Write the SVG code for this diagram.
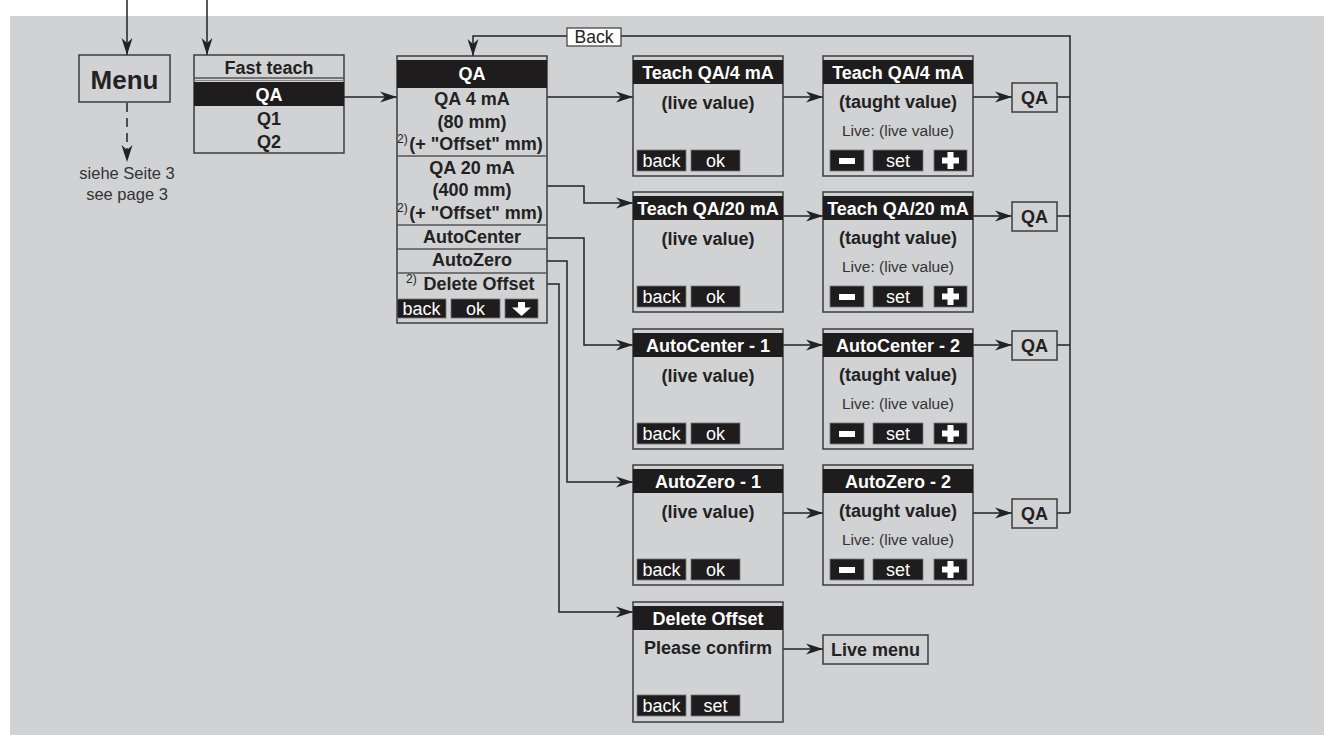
<svg xmlns="http://www.w3.org/2000/svg" width="1324" height="735" viewBox="0 0 1324 735">
<defs>
<style>
text{font-family:"Liberation Sans",Arial,sans-serif;fill:#222}
.b{font-weight:bold;font-size:18px}
.w{fill:#fff}
.c{text-anchor:middle}
.reg{font-size:18px}
.sm{font-size:15.5px;fill:#333}
.box{fill:none;stroke:#3c3c3c;stroke-width:1.5}
.sep{stroke:#555;stroke-width:1.5}
.bar{fill:#1e1c1c}
.btn{fill:#1e1c1c;stroke:#777;stroke-width:0.8}
.ln{fill:none;stroke:#222;stroke-width:1.5}
.sup{font-size:12px;font-weight:normal}
</style>
<marker id="ah" markerWidth="18" markerHeight="12" refX="17" refY="6" orient="auto" markerUnits="userSpaceOnUse">
<path d="M0,0.5 L17,6 L0,11.5 L5,6 z" fill="#222"/>
</marker>
<g id="scr1">
<rect class="box" x="0" y="0" width="150" height="120"/>
<rect class="bar" x="0" y="4" width="150" height="24"/>
<text class="b c" x="75" y="53">(live value)</text>
<rect class="btn" x="4" y="94" width="49" height="21"/>
<rect class="btn" x="58" y="94" width="49" height="21"/>
<text class="reg w c" x="28.5" y="111">back</text>
</g>
<g id="scr2">
<rect class="box" x="0" y="0" width="150" height="120"/>
<rect class="bar" x="0" y="4" width="150" height="24"/>
<text class="b c" x="75" y="52">(taught value)</text>
<text class="sm c" x="75" y="80">Live: (live value)</text>
<rect class="btn" x="7" y="94" width="34" height="21"/>
<rect x="16" y="102" width="16" height="6" fill="#fff"/>
<rect class="btn" x="50" y="94" width="50" height="21"/>
<text class="reg w c" x="75" y="111">set</text>
<rect class="btn" x="111" y="94" width="33" height="21"/>
<rect x="119" y="101.5" width="17" height="6" fill="#fff"/>
<rect x="124.5" y="96" width="6" height="17" fill="#fff"/>
</g>
</defs>

<rect x="0" y="0" width="1324" height="735" fill="#fff"/>
<rect x="10" y="16" width="1314" height="719" fill="#d1d2d4"/>

<g id="connectors">
<path class="ln" d="M127,0 V55" marker-end="url(#ah)"/>
<path class="ln" d="M207,0 V55" marker-end="url(#ah)"/>
<path class="ln" d="M127,103 V162" stroke-dasharray="9,6" marker-end="url(#ah)"/>
<path class="ln" d="M344,97 H397" marker-end="url(#ah)"/>
<path class="ln" d="M1057,97 H1070 M1057,216 H1070 M1057,345 H1070 M1057,513 H1070"/>
<path class="ln" d="M1070,513 V36 H473 V56" marker-end="url(#ah)"/>
<path class="ln" d="M547,97 H633" marker-end="url(#ah)"/>
<path class="ln" d="M547,186 H584 V203 H633" marker-end="url(#ah)"/>
<path class="ln" d="M547,238 H584 V345 H633" marker-end="url(#ah)"/>
<path class="ln" d="M547,261 H567 V482 H633" marker-end="url(#ah)"/>
<path class="ln" d="M547,284 H559 V612 H633" marker-end="url(#ah)"/>
<path class="ln" d="M783,97 H823" marker-end="url(#ah)"/>
<path class="ln" d="M783,216 H823" marker-end="url(#ah)"/>
<path class="ln" d="M783,345 H823" marker-end="url(#ah)"/>
<path class="ln" d="M783,513 H823" marker-end="url(#ah)"/>
<path class="ln" d="M973,97 H1012" marker-end="url(#ah)"/>
<path class="ln" d="M973,216 H1012" marker-end="url(#ah)"/>
<path class="ln" d="M973,345 H1012" marker-end="url(#ah)"/>
<path class="ln" d="M973,513 H1012" marker-end="url(#ah)"/>
<path class="ln" d="M783,649 H823" marker-end="url(#ah)"/>
<g id="back-label">
<rect x="567" y="28" width="54" height="18" fill="#fff" stroke="#3c3c3c" stroke-width="1.2"/>
<text class="reg c" x="594" y="43" style="font-size:17.5px">Back</text>
</g>
</g>

<g id="menu">
<rect class="box" x="79" y="55" width="91" height="47"/>
<text class="b c" x="124.5" y="89" style="font-size:26px">Menu</text>
</g>
<g id="see-page">
<text class="c" x="127" y="179" style="font-size:16.5px;fill:#333">siehe Seite 3</text>
<text class="c" x="127" y="200" style="font-size:16.5px;fill:#333">see page 3</text>
</g>

<g id="fast-teach">
<rect class="box" x="194" y="55" width="150" height="98"/>
<text class="b c" x="269" y="74">Fast teach</text>
<line class="sep" x1="194" y1="78" x2="344" y2="78"/>
<line x1="194" y1="80.5" x2="344" y2="80.5" stroke="#888" stroke-width="1"/>
<rect class="bar" x="194" y="82" width="150" height="24"/>
<text class="b w c" x="269" y="101">QA</text>
<text class="b c" x="269" y="125">Q1</text>
<text class="b c" x="269" y="148">Q2</text>
</g>

<g id="qa-menu">
<rect class="box" x="397" y="56" width="150" height="267"/>
<rect class="bar" x="397" y="60" width="150" height="28"/>
<text class="b w c" x="472" y="80">QA</text>
<text class="b c" x="472" y="105">QA 4 mA</text>
<text class="b c" x="472" y="128">(80 mm)</text>
<text class="sup" x="397" y="143">2)</text>
<text class="b c" x="476" y="150">(+ "Offset" mm)</text>
<line class="sep" x1="397" y1="156" x2="547" y2="156"/>
<text class="b c" x="472" y="174">QA 20 mA</text>
<text class="b c" x="472" y="196">(400 mm)</text>
<text class="sup" x="397" y="212">2)</text>
<text class="b c" x="476" y="219">(+ "Offset" mm)</text>
<line class="sep" x1="397" y1="225" x2="547" y2="225"/>
<text class="b c" x="472" y="243">AutoCenter</text>
<line class="sep" x1="397" y1="249" x2="547" y2="249"/>
<text class="b c" x="472" y="266">AutoZero</text>
<line class="sep" x1="397" y1="273" x2="547" y2="273"/>
<text class="sup" x="406" y="283">2)</text>
<text class="b c" x="479" y="290">Delete Offset</text>
<rect class="btn" x="397" y="299" width="49" height="19"/>
<text class="reg w c" x="421.5" y="315">back</text>
<rect class="btn" x="451" y="299" width="49" height="19"/>
<text class="reg w c" x="475.5" y="315">ok</text>
<rect class="btn" x="505" y="299" width="33" height="19"/>
<rect x="518" y="302" width="7" height="6" fill="#fff"/>
<polygon points="512,307.5 531,307.5 521.5,316" fill="#fff"/>
</g>

<g id="teach-4ma-1" transform="translate(633,56)">
<use href="#scr1"/>
<text class="b w c" x="75" y="22.5">Teach QA/4 mA</text>
<text class="reg w c" x="82.5" y="111">ok</text>
</g>
<g id="teach-4ma-2" transform="translate(823,56)">
<use href="#scr2"/>
<text class="b w c" x="75" y="22.5">Teach QA/4 mA</text>
</g>
<g id="teach-20ma-1" transform="translate(633,192)">
<use href="#scr1"/>
<text class="b w c" x="75" y="22.5">Teach QA/20 mA</text>
<text class="reg w c" x="82.5" y="111">ok</text>
</g>
<g id="teach-20ma-2" transform="translate(823,192)">
<use href="#scr2"/>
<text class="b w c" x="75" y="22.5">Teach QA/20 mA</text>
</g>
<g id="autocenter-1" transform="translate(633,329)">
<use href="#scr1"/>
<text class="b w c" x="75" y="22.5">AutoCenter - 1</text>
<text class="reg w c" x="82.5" y="111">ok</text>
</g>
<g id="autocenter-2" transform="translate(823,329)">
<use href="#scr2"/>
<text class="b w c" x="75" y="22.5">AutoCenter - 2</text>
</g>
<g id="autozero-1" transform="translate(633,465)">
<use href="#scr1"/>
<text class="b w c" x="75" y="22.5">AutoZero - 1</text>
<text class="reg w c" x="82.5" y="111">ok</text>
</g>
<g id="autozero-2" transform="translate(823,465)">
<use href="#scr2"/>
<text class="b w c" x="75" y="22.5">AutoZero - 2</text>
</g>
<g id="delete-offset" transform="translate(633,602)">
<rect class="box" x="0" y="0" width="150" height="120"/>
<rect class="bar" x="0" y="4" width="150" height="24"/>
<text class="b w c" x="75" y="22.5">Delete Offset</text>
<text class="b c" x="75" y="52">Please confirm</text>
<rect class="btn" x="4" y="93" width="49" height="21"/>
<text class="reg w c" x="28.5" y="110">back</text>
<rect class="btn" x="58" y="93" width="49" height="21"/>
<text class="reg w c" x="82.5" y="110">set</text>
</g>

<g id="qa-ret-1"><rect class="box" x="1012" y="83" width="45" height="29"/><text class="b c" x="1034.5" y="104">QA</text></g>
<g id="qa-ret-2"><rect class="box" x="1012" y="202" width="45" height="29"/><text class="b c" x="1034.5" y="223">QA</text></g>
<g id="qa-ret-3"><rect class="box" x="1012" y="331" width="45" height="29"/><text class="b c" x="1034.5" y="352">QA</text></g>
<g id="qa-ret-4"><rect class="box" x="1012" y="499" width="45" height="29"/><text class="b c" x="1034.5" y="520">QA</text></g>
<g id="live-menu"><rect class="box" x="823" y="635" width="105" height="29"/><text class="b c" x="875.5" y="656">Live menu</text></g>
</svg>
